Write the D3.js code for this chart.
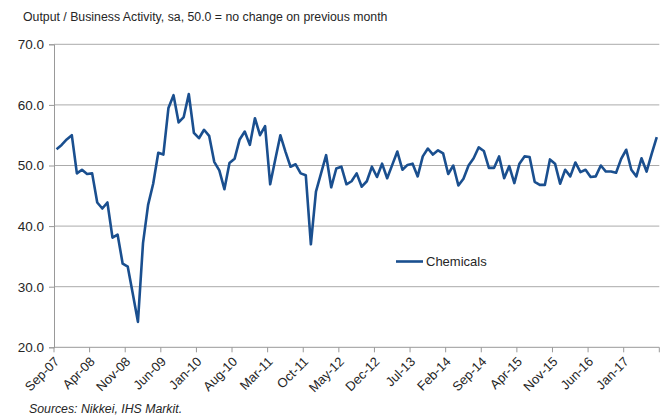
<!DOCTYPE html>
<html>
<head>
<meta charset="utf-8">
<script src="https://cdn.jsdelivr.net/npm/d3@7"></script>
<style>
  body { margin: 0; background: #fff; }
  svg text { font-family: "Liberation Sans", Arial, sans-serif; fill: #262626; }
</style>
</head>
<body>
<div id="vis"></div>
<script>
// Chemicals PMI — output / business activity, monthly Sep-07 .. Jul-17
const width = 665, height = 416;

const fmt = d3.timeFormat("%b-%y");
const MONTHS = d3.timeMonth.range(new Date(2007, 8, 1), new Date(2017, 7, 1)).map(fmt);

const CHEMICALS = [
  52.7, 53.4, 54.3, 55.0, 48.7, 49.3, 48.6, 48.7, 43.9, 42.9,
  43.9, 38.1, 38.6, 33.8, 33.3, 28.8, 24.2, 37.2, 43.5, 47.0,
  52.1, 51.8, 59.5, 61.6, 57.1, 58.0, 61.8, 55.4, 54.5, 55.9,
  54.9, 50.6, 49.2, 46.1, 50.4, 51.1, 54.3, 55.6, 53.4, 57.8,
  55.0, 56.5, 46.9, 51.0, 55.0, 52.3, 49.8, 50.2, 48.7, 48.4,
  37.0, 45.7, 48.7, 51.7, 46.4, 49.5, 49.8, 46.9, 47.4, 48.7,
  46.5, 47.4, 49.8, 48.1, 50.3, 47.9, 50.1, 52.3, 49.3, 50.1,
  50.3, 48.2, 51.5, 52.8, 51.8, 52.5, 52.0, 48.6, 50.0, 46.7,
  47.8, 50.0, 51.2, 53.0, 52.4, 49.6, 49.6, 51.5, 47.9, 49.9,
  47.1, 50.3, 51.5, 51.4, 47.3, 46.8, 46.8, 51.0, 50.3, 47.0,
  49.3, 48.2, 50.5, 48.9, 49.3, 48.1, 48.2, 50.0, 49.0, 49.0,
  48.8, 51.1, 52.6, 49.3, 48.2, 51.2, 49.0, 51.9, 54.7
];

const X_TICKS = ["Sep-07","Apr-08","Nov-08","Jun-09","Jan-10","Aug-10","Mar-11","Oct-11",
  "May-12","Dec-12","Jul-13","Feb-14","Sep-14","Apr-15","Nov-15","Jun-16","Jan-17"];
const Y_TICKS = [20, 30, 40, 50, 60, 70];

const data = MONTHS.map((m, i) => ({ m, v: CHEMICALS[i] }));

const mLeft = 54, mRight = 659.3, mTop = 44.3, mBottom = 347.3;

const svg = d3.select("#vis").append("svg")
  .attr("width", width).attr("height", height);

const x = d3.scaleBand().domain(MONTHS).range([mLeft, mRight]).padding(0);
const y = d3.scaleLinear().domain([20, 70]).range([mBottom, mTop]);
const cx = d => x(d) + x.bandwidth() / 2;

// titulo
svg.append("text")
  .attr("x", 23).attr("y", 21)
  .attr("font-size", 12.3)
  .text("Output / Business Activity, sa, 50.0 = no change on previous month");

// gridlines
svg.append("g")
  .selectAll("line").data(Y_TICKS.filter(t => t > 20)).enter().append("line")
  .attr("x1", mLeft).attr("x2", mRight)
  .attr("y1", d => y(d)).attr("y2", d => y(d))
  .attr("stroke", "#ababab").attr("stroke-width", 1);

// eje y
const gy = svg.append("g").attr("transform", `translate(${mLeft},0)`)
  .call(d3.axisLeft(y).tickValues(Y_TICKS).tickFormat(d3.format(".1f")).tickSize(5).tickPadding(5));
gy.select(".domain").attr("stroke", "#999");
gy.selectAll(".tick line").attr("stroke", "#999");
gy.selectAll(".tick text").attr("font-size", 13.5).attr("fill", "#262626")
  .attr("font-family", "Liberation Sans, Arial, sans-serif");

// eje x
const gx = svg.append("g").attr("transform", `translate(0,${mBottom})`);
gx.append("line").attr("x1", mLeft).attr("x2", mRight).attr("stroke", "#999");
const tickPos = X_TICKS.map(t => x(t)).concat([mRight]);
gx.selectAll("line.tk").data(tickPos).enter().append("line")
  .attr("class", "tk")
  .attr("x1", d => d).attr("x2", d => d)
  .attr("y1", 0).attr("y2", 5)
  .attr("stroke", "#999");
gx.selectAll("text").data(X_TICKS).enter().append("text")
  .attr("transform", d => `translate(${x(d) + 6},${15}) rotate(-45)`)
  .attr("text-anchor", "end")
  .attr("font-size", 13)
  .text(d => d);

// serie
const line = d3.line().x(d => cx(d.m)).y(d => y(d.v));
svg.append("path").datum(data)
  .attr("d", line)
  .attr("fill", "none")
  .attr("stroke", "#1a4f8f")
  .attr("stroke-width", 2.6)
  .attr("stroke-linejoin", "round");

// leyenda
const lg = svg.append("g").attr("transform", "translate(396,261.5)");
lg.append("line").attr("x1", 0).attr("x2", 27)
  .attr("stroke", "#1a4f8f").attr("stroke-width", 2.6);
lg.append("text").attr("x", 30).attr("y", 4.5).attr("font-size", 13).text("Chemicals");

// fuente
svg.append("text")
  .attr("x", 29).attr("y", 413)
  .attr("font-size", 12.3).attr("font-style", "italic")
  .text("Sources: Nikkei, IHS Markit.");
</script>
</body>
</html>
